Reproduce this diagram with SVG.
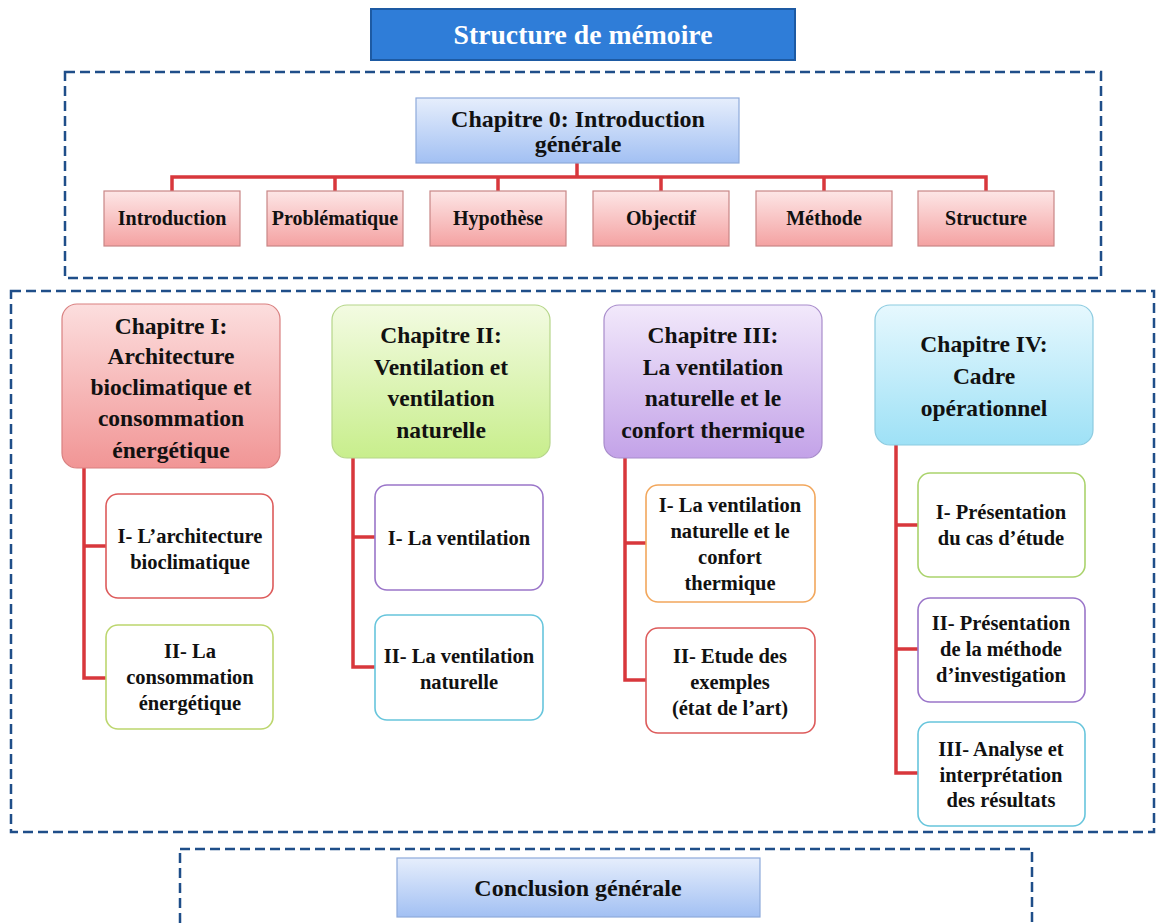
<svg xmlns="http://www.w3.org/2000/svg" width="1157" height="924" viewBox="0 0 1157 924">
  <defs>
    <linearGradient id="gBlue" x1="0" y1="0" x2="0" y2="1">
      <stop offset="0" stop-color="#e6eefc"/>
      <stop offset="1" stop-color="#a2c0f3"/>
    </linearGradient>
    <linearGradient id="gPink" x1="0" y1="0" x2="0" y2="1">
      <stop offset="0" stop-color="#fde6e6"/>
      <stop offset="1" stop-color="#f4a2a2"/>
    </linearGradient>
    <linearGradient id="gRed" x1="0" y1="0" x2="0" y2="1">
      <stop offset="0" stop-color="#fcdede"/>
      <stop offset="1" stop-color="#f19595"/>
    </linearGradient>
    <linearGradient id="gGreen" x1="0" y1="0" x2="0" y2="1">
      <stop offset="0" stop-color="#f3fbe2"/>
      <stop offset="1" stop-color="#c8ee8c"/>
    </linearGradient>
    <linearGradient id="gPurple" x1="0" y1="0" x2="0" y2="1">
      <stop offset="0" stop-color="#f2e9fb"/>
      <stop offset="1" stop-color="#c3a2e8"/>
    </linearGradient>
    <linearGradient id="gCyan" x1="0" y1="0" x2="0" y2="1">
      <stop offset="0" stop-color="#e6f8fe"/>
      <stop offset="1" stop-color="#9ee1f6"/>
    </linearGradient>
  </defs>
  <style>
    text { font-family: "Liberation Serif", "Times New Roman", serif; font-weight: bold; fill: #111; text-anchor: middle; }
    .title { font-size: 27.7px; fill: #ffffff; }
    .h0 { font-size: 24px; }
    .top { font-size: 20px; }
    .chap { font-size: 23.5px; }
    .sub { font-size: 20.5px; }
    .frame { fill: none; stroke: #1f4e89; stroke-width: 2.5; stroke-dasharray: 10 5; }
    .link { fill: none; stroke: #d8373c; stroke-width: 3.5; }
    .sq { stroke-width: 1.2; }
    .subbox { fill: #ffffff; stroke-width: 1.6; }
  </style>

  <rect width="1157" height="924" fill="#ffffff"/>

  <!-- section frames -->
  <g id="frames">
    <rect class="frame" x="65" y="72" width="1036" height="206"/>
    <rect class="frame" x="11" y="291" width="1143" height="541"/>
    <rect class="frame" x="180" y="849" width="852" height="100"/>
  </g>

  <!-- connectors -->
  <g id="connectors">
    <path class="link" d="M577 163 V177 M172 191 V177 H986 V191 M335 177 V191 M498 177 V191 M661 177 V191 M824 177 V191"/>
    <path class="link" d="M84 468 V678 H106 M84 546 H106"/>
    <path class="link" d="M353 458 V667 H375 M353 537 H375"/>
    <path class="link" d="M625 458 V680 H646 M625 543 H646"/>
    <path class="link" d="M896 445 V773 H918 M896 525 H918 M896 649 H918"/>
  </g>

  <g id="title">
    <rect x="371" y="9" width="424" height="51" fill="#2f7dd8" stroke="#1d5aa3" stroke-width="2"/>
    <text class="title" x="583" y="44">Structure de mémoire</text>
  </g>

  <g id="chapitre0">
    <rect class="sq" x="416" y="98" width="323" height="65" fill="url(#gBlue)" stroke="#8eaadb"/>
    <text class="h0" x="578" y="127">Chapitre 0: Introduction</text>
    <text class="h0" x="578" y="152">générale</text>
  </g>

  <g id="introduction">
    <rect class="sq" x="104" y="191" width="136" height="55" fill="url(#gPink)" stroke="#c98686"/>
    <text class="top" x="172" y="225">Introduction</text>
  </g>
  <g id="problematique">
    <rect class="sq" x="267" y="191" width="136" height="55" fill="url(#gPink)" stroke="#c98686"/>
    <text class="top" x="335" y="225">Problématique</text>
  </g>
  <g id="hypothese">
    <rect class="sq" x="430" y="191" width="136" height="55" fill="url(#gPink)" stroke="#c98686"/>
    <text class="top" x="498" y="225">Hypothèse</text>
  </g>
  <g id="objectif">
    <rect class="sq" x="593" y="191" width="136" height="55" fill="url(#gPink)" stroke="#c98686"/>
    <text class="top" x="661" y="225">Objectif</text>
  </g>
  <g id="methode">
    <rect class="sq" x="756" y="191" width="136" height="55" fill="url(#gPink)" stroke="#c98686"/>
    <text class="top" x="824" y="225">Méthode</text>
  </g>
  <g id="structure">
    <rect class="sq" x="918" y="191" width="136" height="55" fill="url(#gPink)" stroke="#c98686"/>
    <text class="top" x="986" y="225">Structure</text>
  </g>

  <!-- chapter headers -->
  <g id="chapitre1">
    <rect x="62" y="304" width="218" height="164" rx="15" fill="url(#gRed)" stroke="#d98080" stroke-width="1.2"/>
    <text class="chap" x="171" y="334">Chapitre I:</text>
    <text class="chap" x="171" y="364">Architecture</text>
    <text class="chap" x="171" y="395">bioclimatique et</text>
    <text class="chap" x="171" y="426">consommation</text>
    <text class="chap" x="171" y="458">énergétique</text>
  </g>
  <g id="chapitre2">
    <rect x="332" y="305" width="218" height="153" rx="15" fill="url(#gGreen)" stroke="#b6d68a" stroke-width="1.2"/>
    <text class="chap" x="441" y="343">Chapitre II:</text>
    <text class="chap" x="441" y="375">Ventilation et</text>
    <text class="chap" x="441" y="406">ventilation</text>
    <text class="chap" x="441" y="438">naturelle</text>
  </g>
  <g id="chapitre3">
    <rect x="604" y="305" width="218" height="153" rx="15" fill="url(#gPurple)" stroke="#a88ccb" stroke-width="1.2"/>
    <text class="chap" x="713" y="343">Chapitre III:</text>
    <text class="chap" x="713" y="375">La ventilation</text>
    <text class="chap" x="713" y="406">naturelle et le</text>
    <text class="chap" x="713" y="438">confort thermique</text>
  </g>
  <g id="chapitre4">
    <rect x="875" y="305" width="218" height="140" rx="15" fill="url(#gCyan)" stroke="#8ccbe0" stroke-width="1.2"/>
    <text class="chap" x="984" y="352">Chapitre IV:</text>
    <text class="chap" x="984" y="384">Cadre</text>
    <text class="chap" x="984" y="416">opérationnel</text>
  </g>

  <!-- chapter I sections -->
  <g id="c1s1">
    <rect class="subbox" x="106" y="494" width="167" height="104" rx="12" stroke="#dd5b5b"/>
    <text class="sub" x="190" y="543">I- L’architecture</text>
    <text class="sub" x="190" y="569">bioclimatique</text>
  </g>
  <g id="c1s2">
    <rect class="subbox" x="106" y="625" width="167" height="104" rx="12" stroke="#bcd66e"/>
    <text class="sub" x="190" y="658">II- La</text>
    <text class="sub" x="190" y="684">consommation</text>
    <text class="sub" x="190" y="710">énergétique</text>
  </g>

  <!-- chapter II sections -->
  <g id="c2s1">
    <rect class="subbox" x="375" y="485" width="168" height="105" rx="12" stroke="#9a75c9"/>
    <text class="sub" x="459" y="545">I- La ventilation</text>
  </g>
  <g id="c2s2">
    <rect class="subbox" x="375" y="615" width="168" height="105" rx="12" stroke="#67c5dc"/>
    <text class="sub" x="459" y="663">II- La ventilation</text>
    <text class="sub" x="459" y="689">naturelle</text>
  </g>

  <!-- chapter III sections -->
  <g id="c3s1">
    <rect class="subbox" x="646" y="485" width="169" height="117" rx="12" stroke="#f2a75c"/>
    <text class="sub" x="730" y="512">I- La ventilation</text>
    <text class="sub" x="730" y="538">naturelle et le</text>
    <text class="sub" x="730" y="564">confort</text>
    <text class="sub" x="730" y="590">thermique</text>
  </g>
  <g id="c3s2">
    <rect class="subbox" x="646" y="628" width="169" height="105" rx="12" stroke="#dd5b5b"/>
    <text class="sub" x="730" y="663">II- Etude des</text>
    <text class="sub" x="730" y="689">exemples</text>
    <text class="sub" x="730" y="715">(état de l’art)</text>
  </g>

  <!-- chapter IV sections -->
  <g id="c4s1">
    <rect class="subbox" x="918" y="473" width="167" height="104" rx="12" stroke="#aad36c"/>
    <text class="sub" x="1001" y="519">I- Présentation</text>
    <text class="sub" x="1001" y="545">du cas d’étude</text>
  </g>
  <g id="c4s2">
    <rect class="subbox" x="918" y="598" width="167" height="104" rx="12" stroke="#9a75c9"/>
    <text class="sub" x="1001" y="630">II- Présentation</text>
    <text class="sub" x="1001" y="656">de la méthode</text>
    <text class="sub" x="1001" y="682">d’investigation</text>
  </g>
  <g id="c4s3">
    <rect class="subbox" x="918" y="722" width="167" height="104" rx="12" stroke="#67c5dc"/>
    <text class="sub" x="1001" y="756">III- Analyse et</text>
    <text class="sub" x="1001" y="782">interprétation</text>
    <text class="sub" x="1001" y="807">des résultats</text>
  </g>

  <g id="conclusion">
    <rect class="sq" x="397" y="858" width="363" height="59" fill="url(#gBlue)" stroke="#8eaadb"/>
    <text class="h0" x="578" y="896">Conclusion générale</text>
  </g>
</svg>
